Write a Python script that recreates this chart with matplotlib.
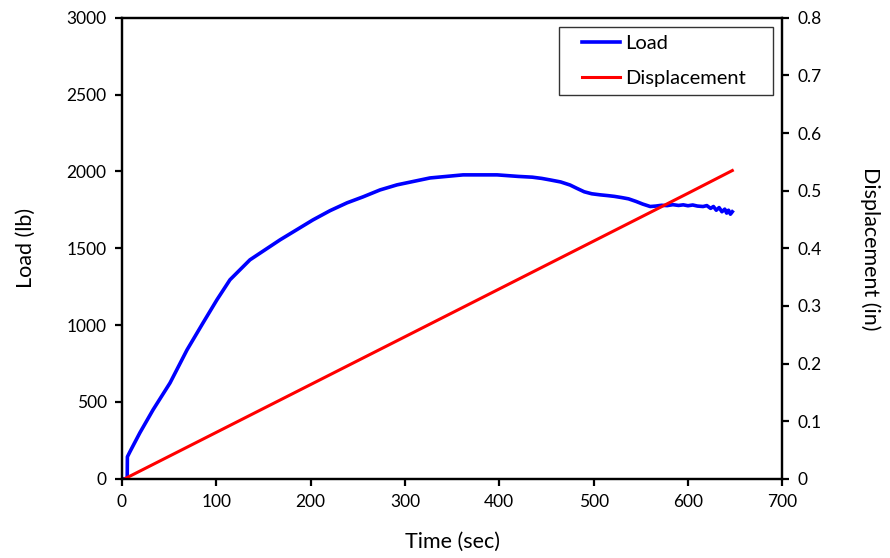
import matplotlib.pyplot as plt
import numpy as np
from matplotlib.legend_handler import HandlerLine2D

# load readings (time in sec, load in lb)
load_time = [3, 5.6, 5.8, 8.5, 19, 33, 51, 69, 86, 100.7, 114.5, 135.7, 167.6,
             202.5, 220.6, 238.6, 255.6, 273.6, 291.6, 326.6, 361.6, 397.7,
             420, 435, 445, 454, 465, 475, 482, 490, 498, 507, 515, 522, 530,
             537, 545, 552, 560, 566, 572, 578, 584, 590, 595, 600, 605, 610,
             616, 620, 624, 627, 630, 633, 636, 639, 641, 643, 645, 647]
load_lb = [0, 0, 143, 176, 299, 449, 624, 839, 1015, 1165, 1295, 1425, 1555,
           1685, 1745, 1796, 1835, 1880, 1913, 1958, 1978, 1978,
           1968, 1963, 1955, 1945, 1932, 1912, 1891, 1868, 1855, 1848, 1843,
           1838, 1830, 1822, 1805, 1788, 1772, 1775, 1780, 1778, 1784, 1779,
           1783, 1777, 1782, 1775, 1772, 1778, 1760, 1772, 1748, 1765, 1738,
           1755, 1729, 1748, 1722, 1738]

# crosshead displacement (in)
disp_time = [3, 100, 200, 300, 400, 500, 600, 647]
disp_in = [0, 0.0805, 0.1635, 0.2465, 0.3295, 0.4125, 0.4955, 0.535]

plt.rcParams['font.family'] = ['Lato', 'DejaVu Sans']
fig = plt.figure(figsize=(8.9, 5.58), dpi=100)
ax = fig.add_axes([0.137, 0.142, 0.742, 0.826])
ax2 = ax.twinx()

l1, = ax.plot(load_time, load_lb, '-', color='#0000ff', linewidth=2.6, label='Load')
l2, = ax2.plot(disp_time, disp_in, '-', color='#ff0000', linewidth=2.2, label='Displacement')

ax.set_xlim(0, 700)
ax.set_ylim(0, 3000)
ax2.set_ylim(0, 0.8)
ax.set_xticks(range(0, 701, 100))
ax.set_yticks(range(0, 3001, 500))
ax2.set_yticks(np.arange(0, 0.81, 0.1))
ax2.set_yticklabels(['0'] + ['%.1f' % v for v in np.arange(0.1, 0.81, 0.1)])

for a in (ax, ax2):
    for s in a.spines.values():
        s.set_linewidth(1.6)
    a.tick_params(direction='out', length=5, width=1.6, labelsize=12.5,
                  colors='black', pad=6)

ax.set_xlabel('Time (sec)', fontsize=15.5, labelpad=16)
ax.set_ylabel('Load (lb)', fontsize=15.5, labelpad=22)
ax2.set_ylabel('Displacement (in)', fontsize=15.5, rotation=270, labelpad=42)

# legend box spans a fixed width in the upper right corner
leg = ax2.legend(handles=[l1, l2], loc='upper left',
                 bbox_to_anchor=(0.662, 0.5, 0.324, 0.4805), mode='expand',
                 borderaxespad=0, fontsize=14.5, frameon=True, fancybox=False,
                 edgecolor='black', handlelength=2.62, labelspacing=0.85,
                 borderpad=0.42, handletextpad=0.25,
                 handler_map={l1: HandlerLine2D(xpad=0.73),
                              l2: HandlerLine2D(xpad=0.73)})
leg.get_frame().set_linewidth(1.0)

fig.savefig('out.png', dpi=100)
